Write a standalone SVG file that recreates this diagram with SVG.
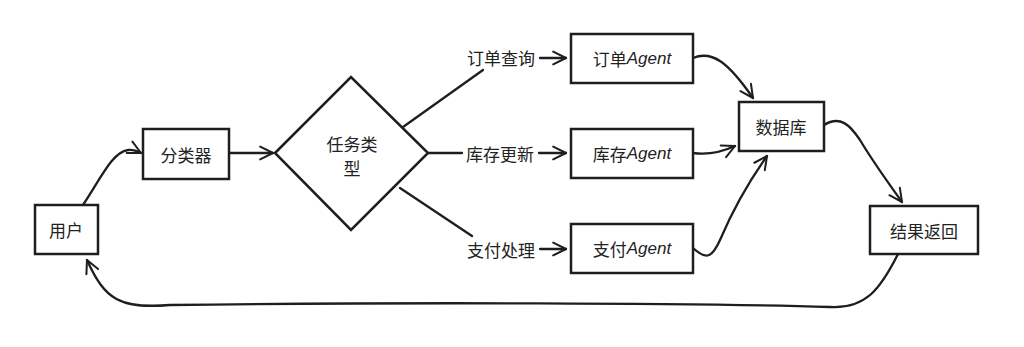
<svg xmlns="http://www.w3.org/2000/svg" width="1024" height="347" viewBox="0 0 1024 347">
<style>
.box{fill:#fff;stroke:#1e1e1e;stroke-width:2.5}
.ln{fill:none;stroke:#1e1e1e;stroke-width:2.3;stroke-linecap:round;stroke-linejoin:round}
.arr{marker-end:url(#ah)}
text{font-family:"Noto Sans CJK SC","Noto Sans",sans-serif;font-size:17px;fill:#222;text-anchor:middle;dominant-baseline:central}
.ag{font-style:italic;font-family:"Liberation Sans","Noto Sans CJK SC",sans-serif}
</style>
<defs>
<marker id="ah" viewBox="0 0 20 20" refX="18" refY="10" markerWidth="16" markerHeight="16" markerUnits="userSpaceOnUse" orient="auto">
<path d="M2,2 L18,10 L2,18" fill="none" stroke="#1e1e1e" stroke-width="2.5" stroke-linecap="round" stroke-linejoin="round"/>
</marker>
</defs>
<rect width="1024" height="347" fill="#fff"/>
<g id="connectors">
<path class="ln arr" d="M83,205 C100,180 112,152 128,150 C133,149 137,151 141,153"/>
<path class="ln arr" d="M229,153 L273,153"/>
<path class="ln" d="M403,127 L483,70"/>
<path class="ln arr" d="M540,58 L566,58"/>
<path class="ln" d="M428,153 L462,153"/>
<path class="ln arr" d="M539,153 L566,153"/>
<path class="ln" d="M400,188 L472,236"/>
<path class="ln arr" d="M540,249 L566,249"/>
<path class="ln arr" d="M693,58 C712,50 728,62 753,98"/>
<path class="ln arr" d="M693,153 C708,155 722,152 735,146"/>
<path class="ln arr" d="M693,248 C706,260 712,258 720,240 C735,205 750,180 767,156"/>
<path class="ln arr" d="M824,125 C840,115 850,125 860,140 C875,165 890,185 902,202"/>
<path class="ln arr" d="M898,254 C880,290 865,309 830,307 C700,303 400,302 170,305 C120,309 105,300 87,260"/>
</g>
<g id="user"><rect class="box" x="35" y="205" width="63" height="49"/><text x="66" y="229">用户</text></g>
<g id="classifier"><rect class="box" x="143" y="129" width="86" height="50"/><text x="186" y="154">分类器</text></g>
<g id="tasktype"><path class="box" d="M275,153 L351,77 L428,153 L351,230 Z"/><text x="352" y="143">任务类</text><text x="352" y="167">型</text></g>
<g id="label-order"><text x="501" y="57">订单查询</text></g>
<g id="label-stock"><text x="500" y="153">库存更新</text></g>
<g id="label-pay"><text x="501" y="249">支付处理</text></g>
<g id="order-agent"><rect class="box" x="571" y="34" width="122" height="49"/><text x="632" y="58">订单<tspan class="ag">Agent</tspan></text></g>
<g id="stock-agent"><rect class="box" x="571" y="129" width="122" height="49"/><text x="632" y="153">库存<tspan class="ag">Agent</tspan></text></g>
<g id="pay-agent"><rect class="box" x="571" y="224" width="122" height="49"/><text x="632" y="248">支付<tspan class="ag">Agent</tspan></text></g>
<g id="database"><rect class="box" x="739" y="102" width="85" height="49"/><text x="781" y="126">数据库</text></g>
<g id="result"><rect class="box" x="870" y="206" width="108" height="48"/><text x="924" y="230">结果返回</text></g>
</svg>
